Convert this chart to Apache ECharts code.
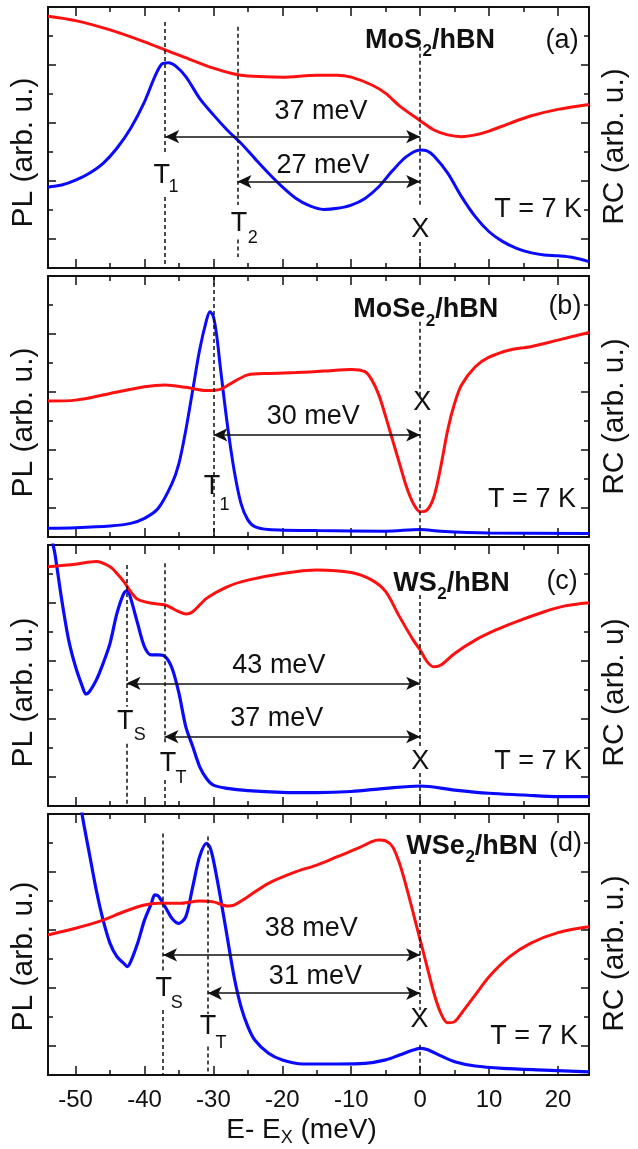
<!DOCTYPE html>
<html><head><meta charset="utf-8">
<script src="https://cdn.jsdelivr.net/npm/echarts@6/dist/echarts.min.js"></script>
<style>html,body{margin:0;padding:0;background:#fff}#c{width:638px;height:1149px}</style>
</head><body><div id="c"></div>
<script>
const FONT = '"Liberation Sans", Arial, Helvetica, sans-serif';
// ---------- data (x = E - E_X in meV, y in arbitrary units) ----------
const xMin = -54, xMax = 24.5;
const panelNames = ['(a)', '(b)', '(c)', '(d)'];
const materialMain = ['MoS', 'MoSe', 'WS', 'WSe'];
const plA = [[-54,1.78],[-53.7,1.80],[-52,1.86],[-50,2.03],[-48,2.27],[-46,2.61],[-44,3.13],[-42,3.82],[-40,4.73],[-38.5,5.60],[-37.5,6.03],[-36.5,6.08],[-35.5,5.97],[-34,5.60],[-32,4.85],[-30,4.28],[-28,3.76],[-26,3.30],[-24,2.78],[-22,2.27],[-20,1.80],[-18,1.40],[-16,1.14],[-14,1.02],[-12,1.06],[-10,1.17],[-8,1.40],[-6,1.80],[-4,2.36],[-2,2.84],[0,3.07],[1,3.04],[2,2.86],[4,2.27],[6,1.46],[8,0.77],[10,0.25],[12,-0.09],[14,-0.32],[16,-0.47],[18,-0.55],[20,-0.58],[22,-0.63],[24.5,-0.78]];
const rcA = [[-54,7.68],[-50,7.53],[-45,7.21],[-40,6.80],[-37,6.52],[-35,6.34],[-30,5.89],[-27,5.69],[-25,5.62],[-20,5.58],[-15,5.65],[-12,5.65],[-10,5.58],[-7,5.31],[-5,5.02],[-3,4.59],[0,4.08],[2,3.76],[4,3.59],[6,3.53],[8,3.59],[10,3.72],[13,3.99],[16,4.24],[20,4.47],[24.5,4.64]];
const plB = [[-54,-0.70],[-50,-0.68],[-45,-0.62],[-42,-0.53],[-40,-0.36],[-38,-0.01],[-36,0.85],[-35,1.54],[-34,2.69],[-33,4.07],[-32,5.45],[-31,6.48],[-30.5,6.77],[-30,6.60],[-29.5,5.91],[-29,4.87],[-28,2.92],[-27,1.31],[-26,0.16],[-25,-0.41],[-24,-0.64],[-22,-0.74],[-15,-0.78],[-5,-0.80],[0,-0.74],[3,-0.80],[10,-0.86],[24.5,-0.88]];
const rcB = [[-54,3.69],[-50,3.72],[-45,3.95],[-40,4.18],[-37,4.24],[-34,4.16],[-31,4.05],[-29,4.09],[-27,4.36],[-25,4.59],[-22,4.64],[-18,4.67],[-14,4.72],[-10,4.78],[-8,4.70],[-7,4.41],[-6,3.90],[-5,3.15],[-4,2.34],[-3,1.54],[-2,0.74],[-1,0.16],[0,-0.13],[1,-0.07],[2,0.39],[3,1.43],[4,2.69],[5,3.61],[6,4.24],[8,4.87],[10,5.20],[13,5.45],[16,5.56],[20,5.79],[24.5,6.05]];
const plC = [[-53.6,9.0],[-53.3,8.06],[-53,7.71],[-52,6.10],[-51,4.72],[-50,3.80],[-49,3.11],[-48.5,2.86],[-48,2.94],[-47,3.34],[-46,3.92],[-45,4.61],[-44,5.64],[-43,6.33],[-42.5,6.43],[-42,6.16],[-41,5.30],[-40,4.49],[-39,4.21],[-38,4.21],[-37,4.15],[-36,3.75],[-35,2.89],[-34,1.73],[-33,1.05],[-32,0.36],[-31,-0.05],[-30,-0.28],[-28,-0.39],[-25,-0.47],[-20,-0.53],[-15,-0.54],[-10,-0.50],[-5,-0.39],[0,-0.31],[5,-0.45],[10,-0.56],[15,-0.62],[20,-0.68],[24.5,-0.68]];
const rcC = [[-54,7.25],[-50,7.34],[-47,7.43],[-45,7.25],[-44,7.02],[-43,6.74],[-42,6.39],[-41,6.13],[-39,5.99],[-37,5.93],[-35,5.70],[-34,5.62],[-33,5.70],[-31,6.16],[-28,6.56],[-25,6.79],[-20,7.02],[-15,7.14],[-10,7.05],[-7,6.79],[-5,6.39],[-3,5.53],[-1,4.72],[0,4.38],[1,3.98],[2,3.80],[3,3.86],[5,4.26],[8,4.72],[11,5.07],[14,5.36],[18,5.70],[21,5.90],[24.5,6.01]];
const plD = [[-49.2,8.3],[-49,7.91],[-48,6.64],[-47,5.38],[-46,4.34],[-45,3.54],[-44,3.08],[-43,2.85],[-42.5,2.74],[-42,2.91],[-41,3.54],[-40,4.34],[-39,4.92],[-38.5,5.21],[-38,5.17],[-37,4.80],[-36,4.40],[-35,4.23],[-34,4.46],[-33,5.49],[-32,6.53],[-31,6.99],[-30.5,6.85],[-30,6.41],[-29,5.15],[-28,3.77],[-27,2.39],[-26,1.36],[-25,0.67],[-24,0.21],[-22,-0.25],[-20,-0.48],[-17,-0.62],[-12,-0.62],[-8,-0.60],[-5,-0.48],[-3,-0.31],[-1,-0.14],[0,-0.08],[1,-0.12],[3,-0.34],[5,-0.54],[8,-0.69],[12,-0.77],[18,-0.83],[24.5,-0.89]];
const rcD = [[-54,3.83],[-50,4.06],[-46,4.34],[-43,4.63],[-40,4.86],[-38,4.92],[-35,4.92],[-32,5.00],[-30,4.97],[-28,4.83],[-27,4.86],[-25,5.15],[-22,5.61],[-18,6.01],[-15,6.24],[-12,6.53],[-9,6.82],[-7,7.05],[-6,7.10],[-5,7.07],[-4,6.87],[-3,6.30],[-2,5.49],[-1,4.58],[0,3.66],[1,2.74],[2,1.82],[3,1.13],[4,0.80],[5,0.84],[6,1.13],[8,1.76],[10,2.39],[13,3.08],[16,3.54],[20,3.91],[24.5,4.11]];
// dashed marker segments: [x, yFrom, yTo]
const dashA = [[-37,7.48,2.95],[-37,1.45,-1],[-26.5,7.32,1.17],[-26.5,-0.02,-0.62],[0,6.63,1.1],[0,-0.1,-1]];
const dashB = [[-30,8,-1],[0,6.42,3.84],[0,3.03,-1]];
const dashC = [[-42.6,7.31,2.42],[-42.6,1.15,-1],[-37.1,7.37,1.17],[-37.1,-0.1,-1],[0,6.28,1.05],[0,0.14,-1]];
const dashD = [[-37.3,7.33,2.51],[-37.3,1.24,-1],[-30.8,7.22,1.10],[-30.8,-0.02,-1],[0,6.41,1.24],[0,0.04,-1]];
// double arrows: [xFrom, xTo, y]
const arrA = [[-37,0,3.53],[-26.5,0,1.98]];
const arrB = [[-30,0,2.52]];
const arrC = [[-42.6,0,3.23],[-37.1,0,1.39]];
const arrD = [[-37.3,0,3.14],[-30.8,0,1.82]];
// energy separations (meV) and peak labels
const splitA = ['37 meV','27 meV'], splitB = ['30 meV'], splitC = ['43 meV','37 meV'], splitD = ['38 meV','31 meV'];
const peakA = [['T','1'],['T','2']], peakB = [['T','1']], peakC = [['T','S'],['T','T']], peakD = [['T','S'],['T','T']];
const tempLabel = 'T = 7 K';

// ---------- layout (positions in data units) ----------
const L = [
  {split:[[-14.4,4.38],[-14.1,2.53]], peak:[[-37.5,2.2,-35.8,1.78],[-26.3,0.55,-24.3,0.05]], X:[0,0.34], temp:[23.5,1.0], title:[-8.0,6.86], tag:[20.6,6.83]},
  {split:[[-15.5,3.15]], peak:[[-30.2,0.73,-28.4,0.10]], X:[0.3,3.62], temp:[22.6,0.28], title:[-9.7,6.83], tag:[21,6.94]},
  {split:[[-20.5,3.86],[-20.8,2.02]], peak:[[-42.8,1.91,-40.7,1.45],[-36.6,0.47,-34.7,-0.03]], X:[0,0.53], temp:[23.5,0.53], title:[-3.9,6.68], tag:[20.6,6.73]},
  {split:[[-15.8,4.06],[-15.2,2.39]], peak:[[-37.2,1.99,-35.3,1.47],[-30.8,0.67,-28.9,0.10]], X:[-0.1,0.90], temp:[22.9,0.32], title:[-2.0,6.87], tag:[21.1,6.99]}
];
const GRID_TOPS = [7, 276, 545, 814], GRID_LEFT = 48, GRID_W = 549, GRID_H = 261;
const plShift = [15, 16, 17, 12], rcShift = [9, 10, 17, 9];
const rcNames = ['RC (arb. u.)','RC (arb. u.)','RC (arb. u)','RC (arb. u.)'];

const PL = [plA, plB, plC, plD], RC = [rcA, rcB, rcC, rcD];
const DASH = [dashA, dashB, dashC, dashD], ARR = [arrA, arrB, arrC, arrD];
const SPLIT = [splitA, splitB, splitC, splitD], PEAK = [peakA, peakB, peakC, peakD];

const INK = '#111';
const grids = [], xAxes = [], yAxes = [], series = [];
for (let g = 0; g < 4; g++) {
  grids.push({left: GRID_LEFT, top: GRID_TOPS[g], width: GRID_W, height: GRID_H});
  const last = g === 3;
  const xBase = {
    gridIndex: g, type: 'value', min: xMin, max: xMax, minInterval: 10, maxInterval: 10,
    axisLine: {onZero: false, lineStyle: {color: INK, width: 2}},
    axisTick: {inside: true, length: 9, lineStyle: {color: INK, width: 1.5}},
    minorTick: {show: true, splitNumber: 2, length: 5, lineStyle: {color: INK, width: 1.5}},
    splitLine: {show: false}, minorSplitLine: {show: false}
  };
  xAxes.push(Object.assign({}, xBase, {
    position: 'bottom',
    axisLabel: {show: last, color: INK, fontSize: 24, fontFamily: FONT, margin: 13, showMinLabel: false, showMaxLabel: false},
    name: last ? 'E- E{s|X} (meV)' : '', nameLocation: 'middle', nameGap: 36,
    nameTextStyle: {color: INK, fontSize: 28, fontFamily: FONT, lineHeight: 34, padding: [0, 34, 0, 0],
      rich: {s: {fontSize: 18, fontFamily: FONT, color: INK, verticalAlign: 'bottom', lineHeight: 18}}}
  }));
  xAxes.push(Object.assign({}, xBase, {position: 'top', axisLabel: {show: false}}));
  const yBase = {
    gridIndex: g, type: 'value', min: -1, max: 8, minInterval: 2, maxInterval: 2,
    axisLine: {show: true, onZero: false, lineStyle: {color: INK, width: 2}},
    axisTick: {show: true, inside: true, length: 8, lineStyle: {color: INK, width: 1.5}},
    minorTick: {show: true, splitNumber: 2, length: 5, lineStyle: {color: INK, width: 1.5}},
    axisLabel: {show: false}, splitLine: {show: false}, minorSplitLine: {show: false},
    nameLocation: 'middle', nameRotate: 90
  };
  yAxes.push(Object.assign({}, yBase, {position: 'left', name: 'PL (arb. u.)', nameGap: 9,
    nameTextStyle: {color: INK, fontSize: 30, fontFamily: FONT, padding: [0, 2 * plShift[g], 0, 0]}}));
  yAxes.push(Object.assign({}, yBase, {position: 'right', name: rcNames[g], nameGap: 11,
    nameTextStyle: {color: INK, fontSize: 30, fontFamily: FONT, padding: [0, 2 * rcShift[g], 0, 0]}}));

  series.push({
    type: 'line', name: 'PL', xAxisIndex: 2 * g, yAxisIndex: 2 * g, data: PL[g],
    showSymbol: false, smooth: 0.3, clip: true, z: 3,
    lineStyle: {color: '#0a0aff', width: g >= 2 ? 3.2 : 3}, emphasis: {disabled: true},
    markLine: {
      silent: true, symbol: ['arrow', 'arrow'], symbolSize: [10, 14],
      label: {show: false}, emphasis: {disabled: true},
      lineStyle: {color: INK, type: 'solid', width: 1.6},
      itemStyle: {color: INK},
      data: ARR[g].map(a => [{coord: [a[0], a[2]]}, {coord: [a[1], a[2]]}])
    }
  });
  series.push({
    type: 'line', name: 'RC', xAxisIndex: 2 * g, yAxisIndex: 2 * g + 1, data: RC[g],
    showSymbol: false, smooth: 0.3, clip: true, z: 4,
    lineStyle: {color: '#ff1010', width: 3}, emphasis: {disabled: true},
    markLine: {
      silent: true, symbol: 'none', label: {show: false}, emphasis: {disabled: true},
      lineStyle: {color: INK, type: [4, 3], width: 1.5},
      data: DASH[g].map(d => [{coord: [d[0], d[1]]}, {coord: [d[0], d[2]]}])
    }
  });
}

const chart = echarts.init(document.getElementById('c'));
chart.setOption({animation: false, backgroundColor: '#fff', grid: grids, xAxis: xAxes, yAxis: yAxes, series: series});

const measureCtx = document.createElement('canvas').getContext('2d');
function textWidth(text, size, weight) {
  measureCtx.font = (weight || 'normal') + ' ' + size + 'px ' + FONT;
  return measureCtx.measureText(text).width;
}
function px(g, x, y) { return chart.convertToPixel({seriesIndex: 2 * g}, [x, y]); }
function txt(p, text, size, align, weight) {
  return {type: 'text', x: p[0], y: p[1], z: 100, silent: true,
    style: {text: text, fontSize: size, fontFamily: FONT, fontWeight: weight || 'normal', fill: INK, align: align || 'center', verticalAlign: 'middle'}};
}
const gr = [];
for (let g = 0; g < 4; g++) {
  const l = L[g];
  SPLIT[g].forEach((s, i) => gr.push(txt(px(g, l.split[i][0], l.split[i][1]), s, 27)));
  PEAK[g].forEach((pk, i) => {
    const q = l.peak[i];
    gr.push(txt(px(g, q[0], q[1]), pk[0], 27));
    gr.push(txt(px(g, q[2], q[3]), pk[1], 18));
  });
  gr.push(txt(px(g, l.X[0], l.X[1]), 'X', 27));
  gr.push(txt(px(g, l.temp[0], l.temp[1]), tempLabel, 27, 'right'));
  // material title: main + subscript 2 + "/hBN"
  const p0 = px(g, l.title[0], l.title[1]);
  const w1 = textWidth(materialMain[g], 27, 'bold');
  const w2 = textWidth('2', 17, 'bold');
  gr.push(txt(p0, materialMain[g], 27, 'left', 'bold'));
  gr.push(txt([p0[0] + w1 + 0.5, p0[1] + 11], '2', 17, 'left', 'bold'));
  gr.push(txt([p0[0] + w1 + w2 + 0.5, p0[1]], '/hBN', 27, 'left', 'bold'));
  gr.push(txt(px(g, l.tag[0], l.tag[1]), panelNames[g], 27));
}
chart.setOption({graphic: gr});
</script></body></html>
